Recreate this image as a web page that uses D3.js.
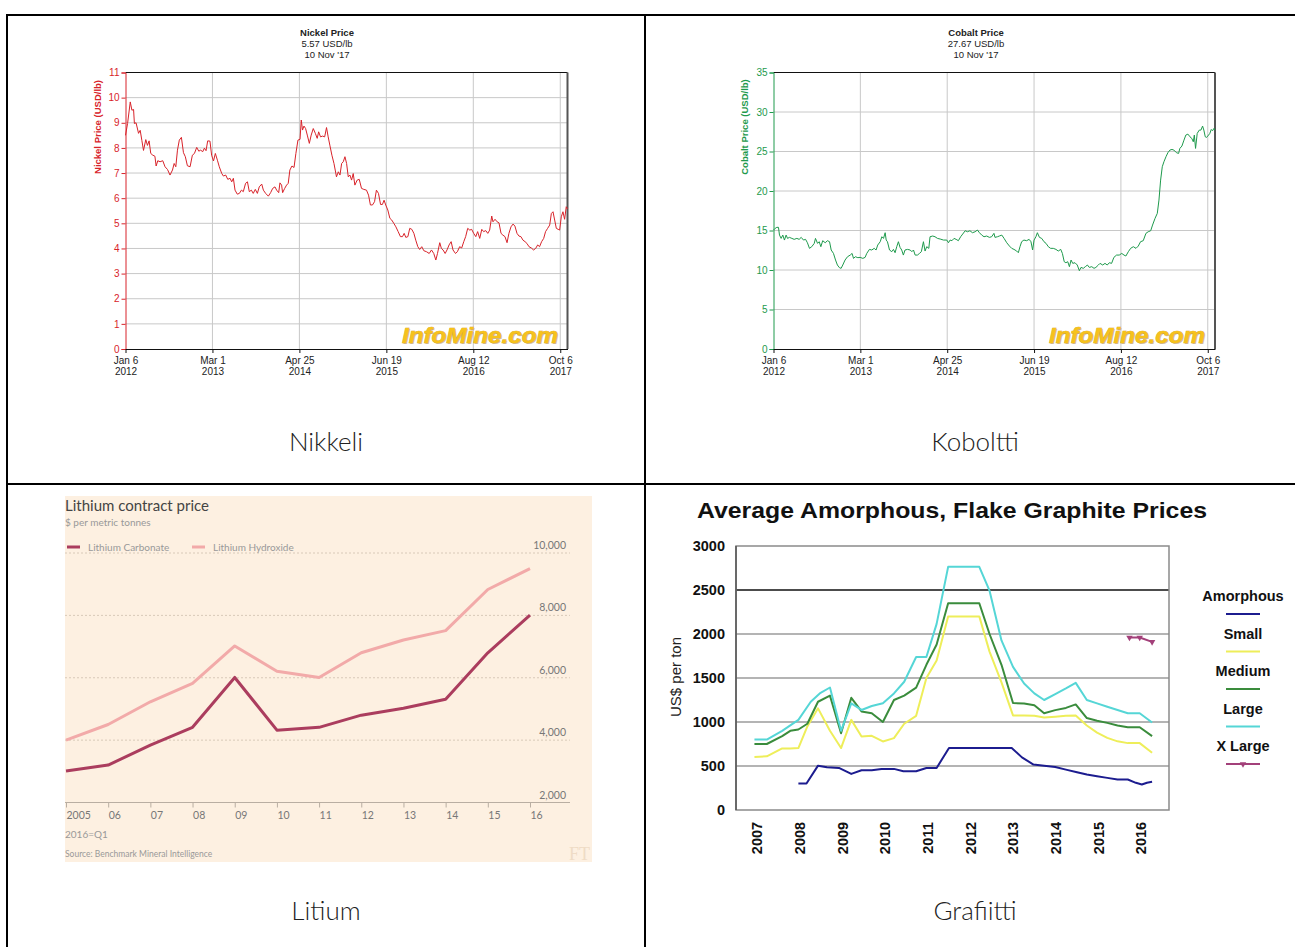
<!DOCTYPE html>
<html>
<head>
<meta charset="utf-8">
<script src="https://cdn.jsdelivr.net/npm/d3@7"></script>
<style>
  body { margin: 0; background: #fff; }
  svg { display: block; }
</style>
</head>
<body>
<div id="canvas"></div>
<script>
// ---------- data ----------
var infoTickDates = ["2012-01-06", "2013-03-01", "2014-04-25", "2015-06-19", "2016-08-12", "2017-10-06"];
var infoStart = "2012-01-06", infoEnd = "2017-11-10";

var nickelTicks = [0, 1, 2, 3, 4, 5, 6, 7, 8, 9, 10, 11];
var cobaltTicks = [0, 5, 10, 15, 20, 25, 30, 35];

// [days since Jan 6 2012, USD/lb]
var nickelPrice = [[0,8.5],[10,8.97],[23,9.83],[31,9.5],[39,9.53],[43,8.97],[51,9.0],[63,8.58],[71,8.7],[79,8.3],[87,7.9],[98,8.33],[106,8.1],[114,8.28],[122,7.78],[132,7.71],[142,7.67],[148,7.28],[156,7.49],[167,7.45],[180,7.49],[191,7.25],[203,7.14],[215,6.92],[227,7.12],[235,7.38],[243,7.25],[251,7.91],[260,8.31],[270,8.42],[280,7.81],[289,7.65],[299,7.29],[312,7.25],[323,7.71],[333,7.78],[344,8.02],[354,7.87],[363,7.91],[373,7.85],[381,7.99],[389,7.89],[397,8.28],[408,8.27],[416,7.71],[425,7.48],[434,7.78],[444,7.51],[453,7.25],[465,6.98],[473,6.88],[484,6.92],[494,6.75],[505,6.79],[513,6.65],[521,6.79],[529,6.32],[540,6.16],[550,6.19],[560,6.32],[569,6.26],[580,6.59],[589,6.65],[598,6.26],[608,6.32],[617,6.19],[627,6.35],[637,6.19],[646,6.45],[658,6.56],[666,6.32],[677,6.19],[690,6.08],[701,6.22],[711,6.39],[722,6.45],[730,6.32],[740,6.22],[746,6.61],[754,6.52],[759,6.22],[769,6.39],[778,6.52],[786,6.59],[794,7.12],[804,7.28],[814,7.22],[823,7.78],[833,8.31],[843,8.34],[849,9.11],[855,8.71],[862,8.87],[870,8.77],[878,8.51],[888,8.18],[897,8.51],[907,8.77],[917,8.58],[926,8.38],[933,8.64],[942,8.44],[952,8.47],[962,8.44],[971,8.81],[979,8.44],[987,8.11],[997,7.71],[1007,7.38],[1013,7.12],[1019,6.85],[1028,7.05],[1036,6.92],[1044,7.38],[1052,7.45],[1060,7.65],[1068,7.38],[1076,6.85],[1084,6.92],[1092,6.72],[1100,6.98],[1108,6.52],[1119,6.72],[1129,6.75],[1140,6.39],[1151,6.35],[1164,6.32],[1174,6.12],[1183,5.73],[1193,5.73],[1203,5.86],[1212,6.32],[1222,6.19],[1232,5.75],[1241,5.75],[1249,5.92],[1257,5.73],[1267,5.53],[1277,5.2],[1286,5.13],[1296,5.0],[1306,4.86],[1317,4.67],[1328,4.47],[1338,4.47],[1346,4.6],[1354,4.44],[1364,4.47],[1373,4.8],[1383,4.76],[1393,4.6],[1402,4.33],[1412,4.07],[1421,3.96],[1431,4.07],[1441,3.91],[1454,3.87],[1467,3.8],[1478,3.94],[1489,3.8],[1499,3.54],[1507,3.8],[1518,4.23],[1526,4.0],[1534,3.94],[1544,3.8],[1553,3.94],[1563,4.14],[1573,4.27],[1582,3.94],[1594,3.8],[1603,3.87],[1614,4.07],[1624,4.02],[1634,4.27],[1643,4.47],[1653,4.8],[1663,4.73],[1672,4.76],[1682,4.6],[1692,4.47],[1701,4.67],[1711,4.4],[1721,4.76],[1730,4.67],[1740,4.71],[1750,4.6],[1759,4.73],[1769,5.29],[1775,5.06],[1785,5.16],[1795,5.06],[1804,5.02],[1814,4.6],[1823,4.53],[1833,4.47],[1843,4.23],[1852,4.6],[1862,4.86],[1872,4.97],[1881,4.89],[1891,4.6],[1901,4.49],[1910,4.47],[1920,4.33],[1930,4.27],[1939,4.2],[1949,4.07],[1960,4.02],[1971,3.94],[1981,4.0],[1991,4.14],[2000,4.07],[2010,4.27],[2020,4.4],[2029,4.67],[2039,4.8],[2049,4.93],[2057,5.39],[2065,5.46],[2073,5.13],[2081,4.8],[2090,4.76],[2097,4.73],[2105,5.26],[2113,5.46],[2121,5.16],[2129,5.66],[2135,5.57]];

var cobaltPrice = [[0,15.06],[8,15.27],[16,15.4],[24,15.4],[29,14.42],[37,14.0],[45,14.42],[53,13.79],[61,14.42],[68,14.0],[77,14.13],[89,14.0],[100,13.88],[113,14.0],[124,13.88],[134,14.13],[145,13.79],[155,13.88],[164,13.45],[174,12.74],[185,12.95],[197,13.37],[203,14.0],[213,13.37],[221,13.58],[229,12.95],[238,13.71],[250,13.45],[261,13.71],[271,13.58],[279,12.53],[290,12.1],[300,11.26],[309,10.63],[319,10.29],[327,10.21],[335,10.63],[346,11.26],[358,11.68],[371,11.89],[380,12.1],[387,11.47],[396,11.68],[408,11.56],[419,11.6],[432,11.47],[443,11.6],[451,12.1],[464,12.61],[475,12.53],[487,12.74],[496,12.53],[504,13.16],[516,13.58],[524,14.21],[532,14.0],[540,14.72],[545,13.79],[551,13.58],[561,12.53],[572,12.32],[580,12.61],[588,12.19],[596,12.95],[604,13.58],[612,12.86],[620,12.53],[628,11.89],[636,12.53],[648,12.61],[661,12.53],[669,12.32],[677,12.53],[685,11.89],[696,11.89],[706,12.1],[715,12.32],[725,13.58],[733,12.4],[741,12.95],[751,12.74],[757,14.21],[770,14.3],[781,14.21],[793,14.0],[806,13.92],[822,13.79],[838,13.79],[846,13.45],[854,13.79],[863,13.71],[873,14.0],[883,13.88],[894,13.71],[905,14.21],[915,14.55],[927,14.97],[938,14.84],[950,14.97],[962,14.72],[975,14.84],[986,15.06],[996,14.72],[1007,14.42],[1018,14.21],[1031,14.3],[1044,14.13],[1055,14.21],[1066,14.64],[1071,14.13],[1083,14.21],[1092,14.3],[1104,14.42],[1115,14.0],[1128,13.45],[1141,13.03],[1152,12.74],[1163,12.61],[1176,12.4],[1184,12.19],[1192,12.95],[1200,13.58],[1211,13.79],[1224,13.71],[1236,13.88],[1245,13.58],[1253,12.53],[1260,13.79],[1269,14.21],[1276,14.72],[1286,14.13],[1297,14.0],[1308,13.58],[1318,13.37],[1329,12.95],[1340,12.74],[1353,12.74],[1366,12.61],[1377,12.4],[1389,12.61],[1397,12.1],[1406,11.05],[1414,10.92],[1423,11.05],[1431,10.42],[1439,11.26],[1447,10.84],[1458,10.92],[1469,10.63],[1479,9.91],[1487,10.33],[1498,10.21],[1508,10.42],[1518,10.63],[1527,10.33],[1539,10.42],[1550,10.21],[1559,10.33],[1571,10.63],[1579,10.84],[1592,10.63],[1603,10.84],[1614,10.63],[1624,10.92],[1635,10.84],[1646,11.6],[1659,11.89],[1672,11.89],[1684,12.1],[1695,11.89],[1704,11.77],[1716,12.32],[1727,12.74],[1740,12.95],[1753,12.74],[1764,13.03],[1775,13.58],[1788,13.71],[1801,14.64],[1812,14.84],[1824,14.97],[1833,15.69],[1845,16.53],[1856,17.17],[1864,18.85],[1872,21.38],[1880,23.07],[1888,23.7],[1898,24.34],[1907,24.84],[1917,25.18],[1927,25.26],[1936,25.18],[1949,24.84],[1959,24.76],[1965,25.39],[1975,25.69],[1985,26.44],[1994,27.08],[2004,27.2],[2014,26.86],[2023,26.65],[2030,26.23],[2035,27.08],[2041,25.39],[2049,27.29],[2059,27.71],[2067,27.71],[2075,28.22],[2081,27.71],[2088,26.86],[2094,26.78],[2104,27.08],[2110,27.29],[2117,27.79],[2123,27.63],[2130,27.92],[2135,27.71]];

var lithiumYears = [2005, 2006, 2007, 2008, 2009, 2010, 2011, 2012, 2013, 2014, 2015, 2016];
var lithiumYearLabels = ["2005", "06", "07", "08", "09", "10", "11", "12", "13", "14", "15", "16"];
var lithiumCarbonate = [3010, 3200, 3840, 4410, 6010, 4320, 4410, 4800, 5020, 5310, 6800, 8010];
var lithiumHydroxide = [4000, 4500, 5230, 5820, 7020, 6210, 6010, 6800, 7210, 7510, 8830, 9500];
var lithiumTicks = [2000, 4000, 6000, 8000, 10000];

var graphiteYears = [2007, 2008, 2009, 2010, 2011, 2012, 2013, 2014, 2015, 2016];
var graphiteTicks = [0, 500, 1000, 1500, 2000, 2500, 3000];
// [year, US$ per ton]
var amorphous = [[2007.97,301],[2008.16,301],[2008.43,504],[2008.64,486],[2008.92,478],[2009.21,410],[2009.45,452],[2009.69,452],[2009.92,467],[2010.21,467],[2010.43,440],[2010.73,440],[2010.97,478],[2011.21,478],[2011.5,704],[2011.78,704],[2012.07,704],[2012.35,704],[2012.69,704],[2012.97,704],[2013.21,598],[2013.48,516],[2013.73,504],[2013.99,489],[2014.24,459],[2014.5,429],[2014.73,403],[2014.97,384],[2015.21,365],[2015.45,346],[2015.69,346],[2015.88,309],[2016.02,290],[2016.14,309],[2016.26,320]];
var small = [[2006.94,602],[2007.23,610],[2007.59,700],[2007.78,700],[2007.97,704],[2008.18,950],[2008.43,1155],[2008.71,900],[2008.97,704],[2009.21,1024],[2009.45,836],[2009.69,843],[2009.95,779],[2010.21,817],[2010.45,980],[2010.73,1070],[2010.97,1500],[2011.21,1700],[2011.48,2200],[2012.21,2200],[2012.45,1800],[2012.73,1450],[2013.0,1075],[2013.26,1075],[2013.5,1070],[2013.73,1050],[2013.99,1060],[2014.24,1070],[2014.47,1075],[2014.73,960],[2014.97,880],[2015.21,820],[2015.45,780],[2015.69,760],[2015.97,760],[2016.26,650]];
var medium = [[2006.94,750],[2007.23,750],[2007.59,840],[2007.78,900],[2007.97,915],[2008.18,980],[2008.43,1230],[2008.71,1300],[2008.97,873],[2009.21,1275],[2009.45,1120],[2009.69,1100],[2009.95,1000],[2010.21,1250],[2010.45,1300],[2010.73,1390],[2010.97,1650],[2011.21,1880],[2011.48,2350],[2012.21,2350],[2012.45,2000],[2012.73,1650],[2013.0,1215],[2013.26,1210],[2013.5,1190],[2013.73,1100],[2013.99,1135],[2014.24,1160],[2014.47,1200],[2014.73,1045],[2014.97,1015],[2015.21,990],[2015.45,960],[2015.69,940],[2015.97,940],[2016.26,840]];
var large = [[2006.94,800],[2007.23,800],[2007.59,900],[2007.97,1024],[2008.26,1230],[2008.47,1325],[2008.71,1392],[2008.97,900],[2009.21,1212],[2009.45,1137],[2009.69,1182],[2009.95,1212],[2010.21,1325],[2010.45,1457],[2010.73,1739],[2010.97,1739],[2011.21,2115],[2011.48,2763],[2012.21,2763],[2012.45,2492],[2012.73,1927],[2013.0,1626],[2013.26,1438],[2013.5,1325],[2013.73,1250],[2013.99,1317],[2014.24,1381],[2014.47,1445],[2014.73,1250],[2014.97,1212],[2015.21,1174],[2015.45,1137],[2015.69,1099],[2015.97,1099],[2016.26,994]];
var xLarge = [[2015.73,1960],[2015.97,1960],[2016.26,1910]];

var captions = ["Nikkeli", "Koboltti", "Litium", "Grafiitti"];

// ---------- page ----------
var svg = d3.select("#canvas").append("svg")
    .attr("width", 1295)
    .attr("height", 947);

// table grid
var grid = svg.append("g").attr("stroke", "#000").attr("stroke-width", 2);
grid.append("line").attr("x1", 6).attr("y1", 15).attr("x2", 1295).attr("y2", 15);
grid.append("line").attr("x1", 7).attr("y1", 14).attr("x2", 7).attr("y2", 947);
grid.append("line").attr("x1", 645).attr("y1", 14).attr("x2", 645).attr("y2", 947);
grid.append("line").attr("x1", 6).attr("y1", 484).attr("x2", 1295).attr("y2", 484);

var capPos = [[326, 451], [975, 451], [326, 920], [975, 920]];
svg.selectAll(".caption").data(captions).enter().append("text")
    .attr("class", "caption")
    .attr("x", function (d, i) { return capPos[i][0]; })
    .attr("y", function (d, i) { return capPos[i][1]; })
    .attr("text-anchor", "middle")
    .style("font-family", "Lato, 'Open Sans', sans-serif")
    .style("font-weight", 300)
    .style("font-size", "26px")
    .style("fill", "#222")
    .text(function (d) { return d; });

// ---------- InfoMine style charts ----------
var parseDay = d3.timeParse("%Y-%m-%d");
var startDate = parseDay(infoStart), endDate = parseDay(infoEnd);
var arial = "'Liberation Sans', Arial, sans-serif";

function infoChart(cfg) {
    var g = svg.append("g");
    var x = d3.scaleTime().domain([startDate, endDate]).range([cfg.left, cfg.right]);
    var y = d3.scaleLinear().domain([0, cfg.ticks[cfg.ticks.length - 1]]).range([cfg.bottom, cfg.top]);
    var dates = infoTickDates.map(parseDay);

    // gridlines
    g.selectAll(".hg").data(cfg.ticks.slice(1, -1)).enter().append("line")
        .attr("x1", cfg.left).attr("x2", cfg.right)
        .attr("y1", function (d) { return y(d); }).attr("y2", function (d) { return y(d); })
        .attr("stroke", "#c8c8c8").attr("stroke-width", 1);
    g.selectAll(".vg").data(dates.slice(1)).enter().append("line")
        .attr("y1", cfg.top).attr("y2", cfg.bottom)
        .attr("x1", function (d) { return x(d); }).attr("x2", function (d) { return x(d); })
        .attr("stroke", "#c8c8c8").attr("stroke-width", 1);

    // frame
    g.append("line").attr("x1", cfg.left).attr("x2", cfg.right).attr("y1", cfg.top).attr("y2", cfg.top)
        .attr("stroke", "#111").attr("stroke-width", 1);
    g.append("line").attr("x1", cfg.right).attr("x2", cfg.right).attr("y1", cfg.top).attr("y2", cfg.bottom)
        .attr("stroke", "#555").attr("stroke-width", 2);

    // watermark
    g.append("text")
        .attr("x", cfg.markX + 1).attr("y", cfg.bottom - 5)
        .attr("textLength", 156).attr("lengthAdjust", "spacingAndGlyphs")
        .style("font", "italic bold 22px " + arial)
        .style("fill", "#b89a6a").style("opacity", 0.6)
        .text("InfoMine.com");
    g.append("text")
        .attr("x", cfg.markX).attr("y", cfg.bottom - 6)
        .attr("textLength", 156).attr("lengthAdjust", "spacingAndGlyphs")
        .style("font", "italic bold 22px " + arial)
        .style("fill", "#f6c21c")
        .style("stroke", "#d39a1a").style("stroke-width", 0.6)
        .style("paint-order", "stroke")
        .text("InfoMine.com");

    // series
    var line = d3.line()
        .x(function (d) { return x(d3.timeDay.offset(startDate, d[0])); })
        .y(function (d) { return y(d[1]); });
    g.append("path").datum(cfg.data)
        .attr("d", line)
        .attr("fill", "none")
        .attr("stroke", cfg.color)
        .attr("stroke-width", 1)
        .attr("stroke-linejoin", "round");

    // axes
    var ya = g.append("g").attr("transform", "translate(" + cfg.left + ",0)")
        .call(d3.axisLeft(y).tickValues(cfg.ticks).tickSize(4).tickPadding(2))
        .attr("font-family", arial).attr("font-size", 10);
    ya.select(".domain").attr("stroke", cfg.color);
    ya.selectAll(".tick line").attr("stroke", cfg.color);
    ya.selectAll(".tick text").attr("fill", cfg.color);

    var xa = g.append("g").attr("transform", "translate(0," + cfg.bottom + ")")
        .call(d3.axisBottom(x).tickValues(dates).tickSize(4).tickSizeOuter(0))
        .attr("font-family", arial).attr("font-size", 10);
    xa.select(".domain").attr("stroke", "#111");
    xa.selectAll(".tick line").attr("stroke", "#111");
    var fmtA = d3.timeFormat("%b %-d"), fmtB = d3.timeFormat("%Y");
    xa.selectAll(".tick text").each(function (d) {
        var t = d3.select(this).text(null).attr("fill", "#222").attr("dy", null).attr("y", 14.5);
        t.append("tspan").attr("x", 0).attr("dy", 0).text(fmtA(d));
        t.append("tspan").attr("x", 0).attr("dy", 11.5).text(fmtB(d));
    });

    // titles
    g.selectAll(".ttl").data(cfg.title).enter().append("text")
        .attr("x", cfg.titleX).attr("y", function (d, i) { return 35.5 + i * 11; })
        .attr("text-anchor", "middle")
        .style("font-family", arial)
        .style("font-size", "9.5px")
        .style("font-weight", function (d, i) { return i === 0 ? "bold" : "normal"; })
        .style("fill", "#222")
        .text(function (d) { return d; });

    g.append("text")
        .attr("transform", "translate(" + cfg.labelX + ",127) rotate(-90)")
        .attr("text-anchor", "middle")
        .style("font", "bold 9.5px " + arial)
        .style("fill", cfg.color)
        .text(cfg.yLabel);
}

infoChart({
    left: 125.5, right: 567.5, top: 72.5, bottom: 349,
    ticks: nickelTicks, data: nickelPrice, color: "#d8232a",
    title: ["Nickel Price", "5.57 USD/lb", "10 Nov '17"], titleX: 327,
    yLabel: "Nickel Price (USD/lb)", labelX: 101, markX: 402
});
infoChart({
    left: 773.5, right: 1215, top: 72.5, bottom: 349,
    ticks: cobaltTicks, data: cobaltPrice, color: "#1e9a4c",
    title: ["Cobalt Price", "27.67 USD/lb", "10 Nov '17"], titleX: 976,
    yLabel: "Cobalt Price (USD/lb)", labelX: 748, markX: 1049
});

// ---------- Lithium (FT style) ----------
(function () {
    var g = svg.append("g");
    var ft = "Lato, 'Open Sans', sans-serif";
    g.append("rect").attr("x", 65).attr("y", 496).attr("width", 527).attr("height", 366).attr("fill", "#fdf0e1");

    var x = d3.scaleLinear().domain([2005, 2016]).range([66, 530]);
    var y = d3.scaleLinear().domain([2000, 10000]).range([802.5, 553]);

    g.selectAll(".lg").data(lithiumTicks.slice(1)).enter().append("line")
        .attr("x1", 65).attr("x2", 570)
        .attr("y1", function (d) { return y(d); }).attr("y2", function (d) { return y(d); })
        .attr("stroke", "#d8c9b8").attr("stroke-width", 1).attr("stroke-dasharray", "2,2");
    g.selectAll(".ll").data(lithiumTicks).enter().append("text")
        .attr("x", 566).attr("y", function (d) { return y(d) - 4; })
        .attr("text-anchor", "end")
        .style("font-family", ft).style("font-size", "10.5px").style("fill", "#777")
        .text(function (d) { return d3.format(",")(d); });

    var xa = g.append("g").attr("transform", "translate(0," + y(2000) + ")")
        .call(d3.axisBottom(x).tickValues(lithiumYears).tickSize(5).tickSizeOuter(0)
            .tickFormat(function (d, i) { return lithiumYearLabels[i]; }))
        .attr("font-family", ft).attr("font-size", 10.5);
    xa.select(".domain").attr("d", "M65,0H570").attr("stroke", "#b9aea2");
    xa.selectAll(".tick line").attr("stroke", "#b9aea2");
    xa.selectAll(".tick text").attr("text-anchor", "start").attr("x", 0).attr("y", 9).attr("fill", "#777");

    var line = d3.line()
        .x(function (d, i) { return x(lithiumYears[i]); })
        .y(function (d) { return y(d); });
    g.append("path").datum(lithiumHydroxide).attr("d", line)
        .attr("fill", "none").attr("stroke", "#f2aaa9").attr("stroke-width", 3).attr("stroke-linejoin", "round");
    g.append("path").datum(lithiumCarbonate).attr("d", line)
        .attr("fill", "none").attr("stroke", "#ab3d5e").attr("stroke-width", 3).attr("stroke-linejoin", "round");

    g.append("text").attr("x", 65).attr("y", 511).style("font-family", ft).style("font-size", "15px").style("fill", "#444").text("Lithium contract price");
    g.append("text").attr("x", 65).attr("y", 526).style("font-family", ft).style("font-size", "10px").style("fill", "#999").text("$ per metric tonnes");

    var legend = [["Lithium Carbonate", "#ab3d5e", 67], ["Lithium Hydroxide", "#f2aaa9", 192]];
    var lg = g.selectAll(".leg").data(legend).enter().append("g");
    lg.append("line").attr("x1", function (d) { return d[2]; }).attr("x2", function (d) { return d[2] + 13; })
        .attr("y1", 547).attr("y2", 547).attr("stroke", function (d) { return d[1]; }).attr("stroke-width", 3);
    lg.append("text").attr("x", function (d) { return d[2] + 21; }).attr("y", 550.5)
        .style("font-family", ft).style("font-size", "10px").style("fill", "#999").text(function (d) { return d[0]; });

    g.append("text").attr("x", 65).attr("y", 838).style("font-family", ft).style("font-size", "10px").style("fill", "#999").text("2016=Q1");
    g.append("text").attr("x", 65).attr("y", 857).style("font-family", ft).style("font-size", "8.5px").style("fill", "#999").text("Source: Benchmark Mineral Intelligence");
    g.append("text").attr("x", 590).attr("y", 860).attr("text-anchor", "end")
        .style("font-family", "'Liberation Serif', serif").style("font-size", "18px").style("fill", "#efdcc6").text("FT");
})();

// ---------- Graphite ----------
(function () {
    var g = svg.append("g");
    var left = 736, right = 1169, top = 546, bottom = 810;
    var x = d3.scaleLinear().domain([2007, 2016]).range([757, 1141]);
    var y = d3.scaleLinear().domain([0, 3000]).range([bottom, top]);

    g.append("text").attr("x", 697).attr("y", 518)
        .attr("textLength", 510).attr("lengthAdjust", "spacingAndGlyphs")
        .style("font", "bold 22px " + arial).style("fill", "#111")
        .text("Average Amorphous, Flake Graphite Prices");

    g.selectAll(".gg").data(graphiteTicks.slice(1, -1)).enter().append("line")
        .attr("x1", left).attr("x2", right)
        .attr("y1", function (d) { return y(d); }).attr("y2", function (d) { return y(d); })
        .attr("stroke", function (d) { return d === 2500 ? "#111" : "#b4b4b4"; })
        .attr("stroke-width", function (d) { return d === 2500 ? 1.5 : 2; });
    g.append("rect").attr("x", left).attr("y", top).attr("width", right - left).attr("height", bottom - top)
        .attr("fill", "none").attr("stroke", "#8a8a8a").attr("stroke-width", 1.5);
    g.append("line").attr("x1", left).attr("x2", left).attr("y1", top).attr("y2", bottom)
        .attr("stroke", "#555").attr("stroke-width", 1.5);

    g.selectAll(".gy").data(graphiteTicks).enter().append("text")
        .attr("x", 725).attr("y", function (d) { return y(d); }).attr("dy", "0.36em")
        .attr("text-anchor", "end")
        .style("font", "bold 14.5px " + arial).style("fill", "#111")
        .text(function (d) { return d; });
    g.selectAll(".gx").data(graphiteYears).enter().append("text")
        .attr("transform", function (d) { return "translate(" + x(d) + ",838) rotate(-90)"; })
        .attr("text-anchor", "middle").attr("dy", "0.36em")
        .style("font", "bold 14.5px " + arial).style("fill", "#111")
        .text(function (d) { return d; });
    g.append("text").attr("transform", "translate(676,677) rotate(-90)").attr("text-anchor", "middle")
        .attr("dy", "0.36em")
        .style("font", "15px " + arial).style("fill", "#222").text("US$ per ton");

    var series = [
        { name: "Amorphous", color: "#1c1c8f", data: amorphous },
        { name: "Small", color: "#eeee5a", data: small },
        { name: "Medium", color: "#3a8c3c", data: medium },
        { name: "Large", color: "#55d6d6", data: large },
        { name: "X Large", color: "#a3407a", data: xLarge }
    ];
    var line = d3.line().x(function (d) { return x(d[0]); }).y(function (d) { return y(d[1]); });
    g.selectAll(".gs").data(series).enter().append("path")
        .attr("d", function (d) { return line(d.data); })
        .attr("fill", "none")
        .attr("stroke", function (d) { return d.color; })
        .attr("stroke-width", 2)
        .attr("stroke-linejoin", "round");
    var tri = d3.symbol().type(d3.symbolTriangle).size(18);
    g.selectAll(".xm").data(xLarge).enter().append("path")
        .attr("d", tri)
        .attr("transform", function (d) { return "translate(" + x(d[0]) + "," + y(d[1]) + ") rotate(180)"; })
        .attr("fill", "#a3407a");

    var lg = g.selectAll(".gl").data(series).enter().append("g")
        .attr("transform", function (d, i) { return "translate(1243," + (601 + i * 37.5) + ")"; });
    lg.append("text").attr("text-anchor", "middle")
        .style("font", "bold 14.5px " + arial).style("fill", "#111")
        .text(function (d) { return d.name; });
    lg.append("line").attr("x1", -17).attr("x2", 17).attr("y1", 13).attr("y2", 13)
        .attr("stroke", function (d) { return d.color; }).attr("stroke-width", 2);
    lg.filter(function (d) { return d.name === "X Large"; }).append("path")
        .attr("d", tri).attr("transform", "translate(0,13) rotate(180)").attr("fill", "#a3407a");
})();
</script>
</body>
</html>
